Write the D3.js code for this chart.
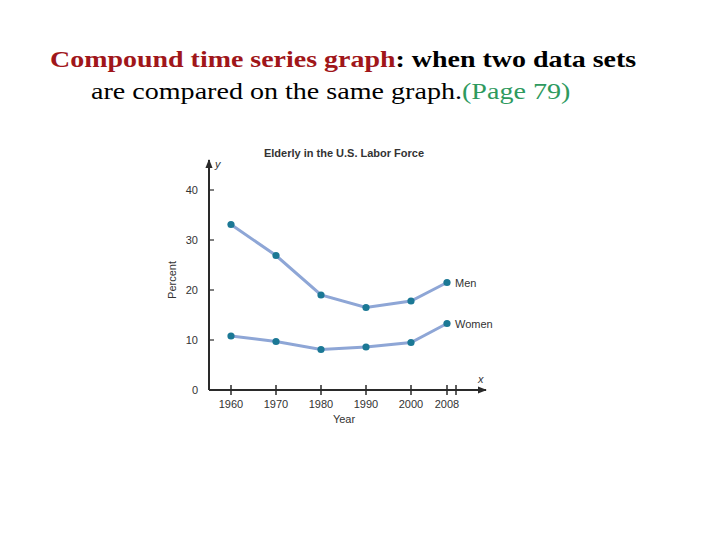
<!DOCTYPE html>
<html><head><meta charset="utf-8">
<script src="https://cdn.jsdelivr.net/npm/d3@7"></script>
<style>body{margin:0;background:#fff}</style>
</head><body>
<svg id="c" width="720" height="540"></svg>
<script>
const years = [1960, 1970, 1980, 1990, 2000, 2008];
const men = [33.1, 26.9, 19.0, 16.5, 17.8, 21.5];
const women = [10.8, 9.7, 8.1, 8.6, 9.5, 13.3];
const yTicks = [0, 10, 20, 30, 40];
const xTickLabels = [1960, 1970, 1980, 1990, 2000, 2008];
const xTicksExtra = [2010];
const seriesNames = ["Men", "Women"];

const svg = d3.select("#c");
// header text (horizontally stretched like the slide)
const serif = "Liberation Serif, Times New Roman, serif";
const t1 = svg.append("text").attr("transform", "translate(50,67) scale(1.165,1)")
  .attr("font-family", serif).attr("font-size", 24).attr("font-weight", "bold");
t1.append("tspan").attr("fill", "#a0161a").text("Compound time series graph");
t1.append("tspan").attr("fill", "#000").text(": when two data sets");
const t2 = svg.append("text").attr("transform", "translate(91,99) scale(1.17,1)")
  .attr("font-family", serif).attr("font-size", 24);
t2.append("tspan").attr("fill", "#000").text("are compared on the same graph.");
t2.append("tspan").attr("fill", "#2e9a5e").text("(Page 79)");

const x = d3.scaleLinear().domain([1960, 2008]).range([231, 447]);
const y = d3.scaleLinear().domain([0, 40]).range([390, 190]);
const font = "Liberation Sans, Arial, sans-serif";
const axisCol = "#2a2a2a";

const defs = svg.append("defs");
defs.append("marker").attr("id", "arr").attr("viewBox", "0 0 10 10").attr("refX", 9).attr("refY", 5)
  .attr("markerWidth", 9).attr("markerHeight", 9).attr("markerUnits", "userSpaceOnUse").attr("orient", "auto")
  .append("path").attr("d", "M0,1 L10,5 L0,9 Z").attr("fill", axisCol);

const x0 = 209;
svg.append("line").attr("x1", x0).attr("x2", x0).attr("y1", y(0)).attr("y2", 160)
  .attr("stroke", axisCol).attr("stroke-width", 2).attr("marker-end", "url(#arr)");
svg.append("line").attr("x1", x0).attr("x2", 486).attr("y1", y(0)).attr("y2", y(0))
  .attr("stroke", axisCol).attr("stroke-width", 2).attr("marker-end", "url(#arr)");

const yg = svg.append("g");
yg.selectAll("line").data(yTicks.filter(d => d > 0)).join("line")
  .attr("x1", x0).attr("x2", x0 + 5).attr("y1", d => y(d)).attr("y2", d => y(d))
  .attr("stroke", axisCol).attr("stroke-width", 1.2);
yg.selectAll("text").data(yTicks).join("text")
  .attr("x", 198).attr("y", d => y(d) + 4).attr("text-anchor", "end")
  .attr("font-family", font).attr("font-size", 11).attr("fill", "#333").text(d => d);

const xg = svg.append("g");
xg.selectAll("line").data(xTickLabels.concat(xTicksExtra)).join("line")
  .attr("x1", d => x(d)).attr("x2", d => x(d)).attr("y1", y(0) - 5).attr("y2", y(0) + 5)
  .attr("stroke", axisCol).attr("stroke-width", 1.5);
xg.selectAll("text").data(xTickLabels).join("text")
  .attr("x", d => x(d)).attr("y", 408).attr("text-anchor", "middle")
  .attr("font-family", font).attr("font-size", 11).attr("fill", "#333").text(d => d);

svg.append("text").attr("x", 215).attr("y", 168).attr("font-family", font).attr("font-style", "italic")
  .attr("font-size", 11).attr("fill", "#333").text("y");
svg.append("text").attr("x", 478).attr("y", 383).attr("font-family", font).attr("font-style", "italic")
  .attr("font-size", 11).attr("fill", "#333").text("x");

svg.append("text").attr("x", 344).attr("y", 423).attr("text-anchor", "middle")
  .attr("font-family", font).attr("font-size", 11).attr("fill", "#333").text("Year");
svg.append("text").attr("transform", "translate(176,280) rotate(-90)").attr("text-anchor", "middle")
  .attr("font-family", font).attr("font-size", 11).attr("fill", "#333").text("Percent");

svg.append("text").attr("x", 344).attr("y", 157).attr("text-anchor", "middle")
  .attr("font-family", font).attr("font-size", 11).attr("font-weight", "bold").attr("fill", "#333")
  .text("Elderly in the U.S. Labor Force");

const line = d3.line().x((d, i) => x(years[i])).y(d => y(d));
[men, women].forEach((s, k) => {
  svg.append("path").attr("d", line(s)).attr("fill", "none").attr("stroke", "#8ea6d6").attr("stroke-width", 3);
  svg.append("g").selectAll("circle").data(s).join("circle")
    .attr("cx", (d, i) => x(years[i])).attr("cy", d => y(d)).attr("r", 3.6).attr("fill", "#1b7895");
  svg.append("text").attr("x", x(years[years.length - 1]) + 8).attr("y", y(s[s.length - 1]) + 4)
    .attr("font-family", font).attr("font-size", 11).attr("fill", "#333").text(seriesNames[k]);
});
</script>
</body></html>
